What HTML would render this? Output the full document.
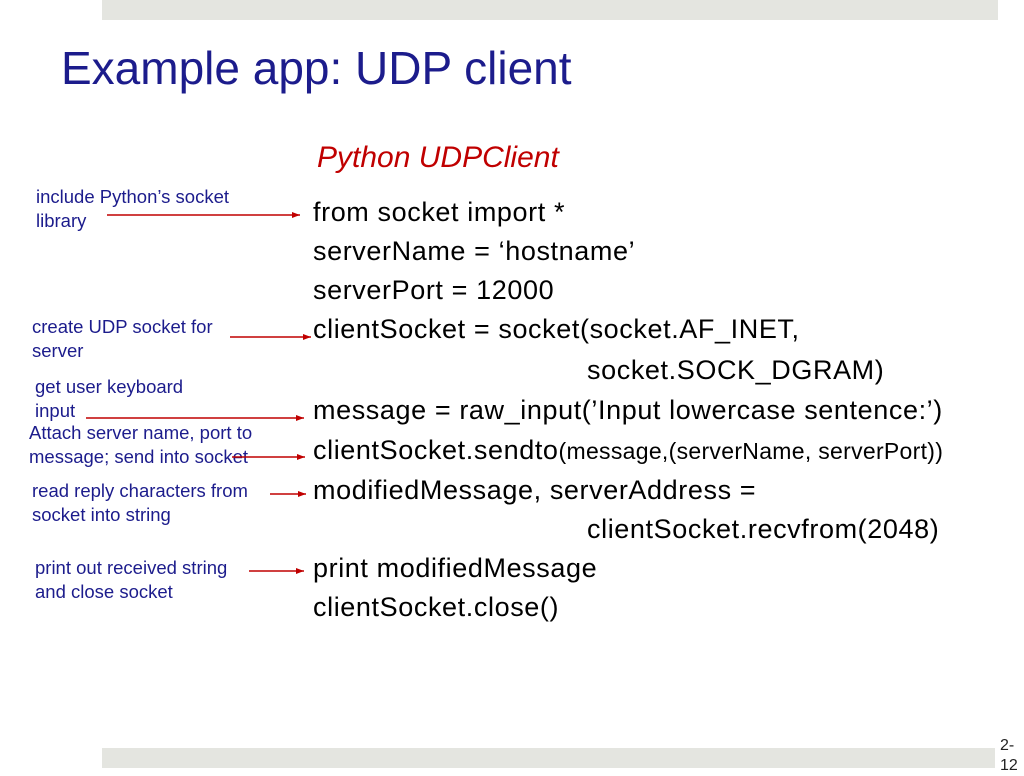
<!DOCTYPE html>
<html><head><meta charset="utf-8"><style>
body{margin:0;width:1024px;height:768px;background:#fff;position:relative;overflow:hidden;font-family:"Liberation Sans",sans-serif}
.a{position:absolute;white-space:nowrap}
.bar{position:absolute;background:#e4e5e0}
.n{color:#1c1c8c;font-size:18.5px;line-height:23.5px}
.c{color:#000;font-size:27px;line-height:30px;letter-spacing:0.6px}
</style></head><body>
<div class="bar" style="left:102px;top:0;width:896px;height:20px"></div>
<div class="bar" style="left:102px;top:748px;width:893px;height:20px"></div>
<div class="a" style="left:1000px;top:736px;font-size:16px;line-height:20px;color:#222">2-<br>12</div>
<div class="a" style="left:61px;top:40px;font-size:46px;color:#1c1c8c;line-height:56px">Example app: UDP client</div>
<div class="a" style="left:317px;top:140px;font-size:30px;color:#c00000;font-style:italic;line-height:36px">Python UDPClient</div>

<div class="a c" style="left:313px;top:197px">from socket import *</div>
<div class="a c" style="left:313px;top:236px">serverName = ‘hostname’</div>
<div class="a c" style="left:313px;top:275px">serverPort = 12000</div>
<div class="a c" style="left:313px;top:314px">clientSocket = socket(socket.AF_INET,</div>
<div class="a c" style="left:587px;top:355px">socket.SOCK_DGRAM)</div>
<div class="a c" style="left:313px;top:395px">message = raw_input(’Input lowercase sentence:’)</div>
<div class="a c" style="left:313px;top:435px">clientSocket.sendto<span style="font-size:23px;letter-spacing:0.3px">(message,(serverName, serverPort))</span></div>
<div class="a c" style="left:313px;top:475px">modifiedMessage, serverAddress =</div>
<div class="a c" style="left:587px;top:514px">clientSocket.recvfrom(2048)</div>
<div class="a c" style="left:313px;top:553px">print modifiedMessage</div>
<div class="a c" style="left:313px;top:592px">clientSocket.close()</div>

<div class="a n" style="left:36px;top:185px">include Python’s socket<br>library</div>
<div class="a n" style="left:32px;top:315px">create UDP socket for<br>server</div>
<div class="a n" style="left:35px;top:375px">get user keyboard<br>input</div>
<div class="a n" style="left:29px;top:421px">Attach server name, port to<br>message; send into socket</div>
<div class="a n" style="left:32px;top:479px">read reply characters from<br>socket into string</div>
<div class="a n" style="left:35px;top:556px">print out received string<br>and close socket</div>

<svg class="a" style="left:0;top:0" width="1024" height="768">
<defs><marker id="m" markerWidth="8" markerHeight="6" refX="8" refY="3" orient="auto" markerUnits="userSpaceOnUse"><path d="M0,0 L8,3 L0,6z" fill="#c00000"/></marker></defs>
<g stroke="#c00000" stroke-width="1.5" marker-end="url(#m)">
<line x1="107" y1="215" x2="300" y2="215"/>
<line x1="230" y1="337" x2="311" y2="337"/>
<line x1="86" y1="418" x2="304" y2="418"/>
<line x1="232" y1="457" x2="305" y2="457"/>
<line x1="270" y1="494" x2="306" y2="494"/>
<line x1="249" y1="571" x2="304" y2="571"/>
</g></svg>
</body></html>
